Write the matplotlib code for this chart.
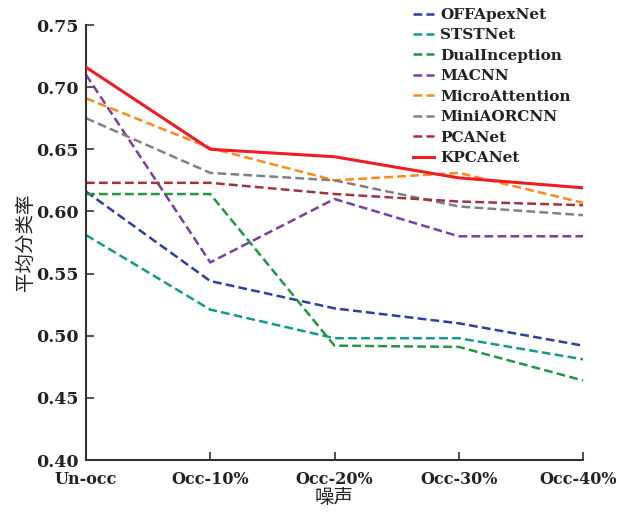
import matplotlib
matplotlib.use("Agg")
import matplotlib.pyplot as plt
import matplotlib.transforms as mtransforms

categories = ["Un-occ", "Occ-10%", "Occ-20%", "Occ-30%", "Occ-40%"]

offapexnet = [0.616, 0.544, 0.522, 0.510, 0.492]
ststnet = [0.581, 0.521, 0.498, 0.498, 0.481]
dualinception = [0.614, 0.614, 0.492, 0.491, 0.464]
macnn = [0.710, 0.559, 0.610, 0.580, 0.580]
microattention = [0.691, 0.651, 0.625, 0.631, 0.607]
miniaorcnn = [0.675, 0.631, 0.625, 0.604, 0.597]
pcanet = [0.623, 0.623, 0.614, 0.608, 0.605]
kpcanet = [0.716, 0.650, 0.644, 0.627, 0.619]

series = [
    ("OFFApexNet", offapexnet, "#2c3f9e", "--"),
    ("STSTNet", ststnet, "#17998a", "--"),
    ("DualInception", dualinception, "#23963f", "--"),
    ("MACNN", macnn, "#7840a0", "--"),
    ("MicroAttention", microattention, "#ff8a1c", "--"),
    ("MiniAORCNN", miniaorcnn, "#808080", "--"),
    ("PCANet", pcanet, "#a3323f", "--"),
    ("KPCANet", kpcanet, "#ee1c24", "-"),
]

yticks = [0.40, 0.45, 0.50, 0.55, 0.60, 0.65, 0.70, 0.75]

serif = ["DejaVu Serif"]
cjk = ["Noto Sans CJK SC", "DejaVu Sans"]

fig = plt.figure(figsize=(6.19, 5.14), dpi=100)
ax = fig.add_axes([86 / 619, 1 - 460 / 514, (583 - 86) / 619, (460 - 25) / 514])

x = list(range(len(categories)))
for name, vals, color, ls in series:
    if ls == "-":
        ax.plot(x, vals, color=color, lw=2.2, ls="-", label=name, zorder=5)
    else:
        ax.plot(x, vals, color=color, lw=1.8, ls=(0, (3.5, 1.7)), label=name)

ax.set_xlim(0, len(categories) - 1)
ax.set_ylim(0.40, 0.75)
ax.set_xticks(x)
ax.set_xticklabels(categories, fontfamily=serif, fontsize=11.5, fontweight="bold", color="#222222")
ax.set_yticks(yticks)
ax.set_yticklabels([f"{v:.2f}" for v in yticks], fontfamily=serif, fontsize=12.5, fontweight="bold", color="#222222")
ax.tick_params(direction="in", length=6, width=1.2, color="#333333", pad=5)
ax.tick_params(axis="x", pad=8)

# nudge the rightmost category label inward so it stays inside the figure
last_tick = ax.xaxis.get_major_ticks()[-1]
shift = mtransforms.ScaledTranslation(-5 / 100, 0, fig.dpi_scale_trans)
last_tick.label1.set_transform(last_tick.label1.get_transform() + shift)

for side in ("top", "right"):
    ax.spines[side].set_visible(False)
for side in ("left", "bottom"):
    ax.spines[side].set_color("#333333")
    ax.spines[side].set_linewidth(1.5)

ax.set_ylabel("平均分类率", fontfamily=cjk, fontsize=14, color="#222222", labelpad=0)
ax.set_xlabel("噪声", fontfamily=cjk, fontsize=14, color="#222222", labelpad=-1)

leg = ax.legend(
    loc="upper left",
    bbox_to_anchor=(413 / 619, 1 - 8 / 514),
    bbox_transform=fig.transFigure,
    frameon=False,
    borderpad=0,
    borderaxespad=0,
    handlelength=1.35,
    handletextpad=0.45,
    labelspacing=0.42,
    prop={"family": serif, "size": 11, "weight": "bold"},
)
for t in leg.get_texts():
    t.set_color("#222222")

fig.savefig("out.png", dpi=100)
